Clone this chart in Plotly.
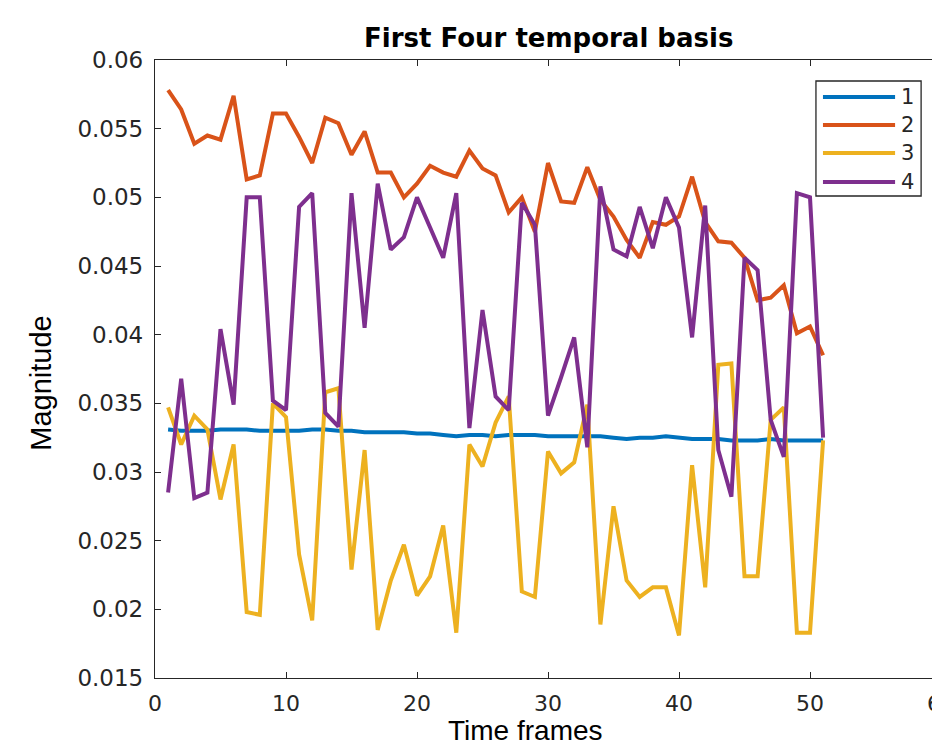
import plotly.graph_objects as go

frames = list(range(1, 52))

basis1 = [0.0331, 0.0330, 0.0330, 0.0330, 0.0331, 0.0331, 0.0331, 0.0330, 0.0330, 0.0330,
          0.0330, 0.0331, 0.0331, 0.0330, 0.0330, 0.0329, 0.0329, 0.0329, 0.0329, 0.0328,
          0.0328, 0.0327, 0.0326, 0.0327, 0.0327, 0.0326, 0.0327, 0.0327, 0.0327, 0.0326,
          0.0326, 0.0326, 0.0326, 0.0326, 0.0325, 0.0324, 0.0325, 0.0325, 0.0326, 0.0325,
          0.0324, 0.0324, 0.0324, 0.0323, 0.0323, 0.0323, 0.0324, 0.0323, 0.0323, 0.0323,
          0.0323]

basis2 = [0.0578, 0.0564, 0.0539, 0.0545, 0.0542, 0.0574, 0.0513, 0.0516, 0.0561, 0.0561,
          0.0544, 0.0525, 0.0558, 0.0554, 0.0531, 0.0548, 0.0518, 0.0518, 0.0500, 0.0510,
          0.0523, 0.0518, 0.0515, 0.0534, 0.0521, 0.0516, 0.0489, 0.0500, 0.0475, 0.0525,
          0.0497, 0.0496, 0.0522, 0.0498, 0.0486, 0.0469, 0.0456, 0.0482, 0.0480, 0.0486,
          0.0515, 0.0482, 0.0468, 0.0467, 0.0456, 0.0425, 0.0427, 0.0436, 0.0401, 0.0406,
          0.0385]

basis3 = [0.0347, 0.0320, 0.0341, 0.0331, 0.0280, 0.0320, 0.0198, 0.0196, 0.0350, 0.0340,
          0.0240, 0.0192, 0.0358, 0.0361, 0.0229, 0.0316, 0.0185, 0.0221, 0.0247, 0.0210,
          0.0224, 0.0261, 0.0183, 0.0320, 0.0304, 0.0336, 0.0355, 0.0213, 0.0209, 0.0315,
          0.0299, 0.0307, 0.0349, 0.0189, 0.0275, 0.0221, 0.0209, 0.0216, 0.0216, 0.0181,
          0.0305, 0.0216, 0.0378, 0.0379, 0.0224, 0.0224, 0.0338, 0.0347, 0.0183, 0.0183,
          0.0323]

basis4 = [0.0285, 0.0368, 0.0281, 0.0285, 0.0404, 0.0349, 0.0500, 0.0500, 0.0352, 0.0345,
          0.0493, 0.0503, 0.0343, 0.0333, 0.0503, 0.0405, 0.0510, 0.0462, 0.0471, 0.0500,
          0.0478, 0.0456, 0.0503, 0.0332, 0.0418, 0.0355, 0.0345, 0.0496, 0.0480, 0.0341,
          0.0369, 0.0398, 0.0318, 0.0508, 0.0462, 0.0457, 0.0493, 0.0463, 0.0500, 0.0478,
          0.0398, 0.0494, 0.0316, 0.0282, 0.0456, 0.0447, 0.0338, 0.0311, 0.0503, 0.0500,
          0.0325]

series_names = ["1", "2", "3", "4"]
series_colors = ["#0072BD", "#D95319", "#EDB120", "#7E2F8E"]
series_values = [basis1, basis2, basis3, basis4]

x_ticks = [0, 10, 20, 30, 40, 50, 60]
y_ticks = [0.015, 0.02, 0.025, 0.03, 0.035, 0.04, 0.045, 0.05, 0.055, 0.06]
y_tick_text = ["0.015", "0.02", "0.025", "0.03", "0.035", "0.04", "0.045", "0.05", "0.055", "0.06"]

title_text = "First Four temporal basis"
x_title = "Time frames"
y_title = "Magnitude"

# page body has an 8px margin; horizontal positions are given in page pixels
OFF = 8
HS = 1 / 0.981   # horizontal correction observed between layout and picture
PL, PR = round(152 * HS), round(937 * HS)
PT, PB = 60, 678
W = PR - OFF
H = 754 - 2 * OFF
L, R = PL - OFF, 0
T, B = PT - OFF, H - (PB - OFF)
pw, ph = PR - PL, PB - PT

def px(xp):
    return (xp * HS - PL) / pw

def py(yp):
    return (PB - yp) / ph

fig = go.Figure()
for name, color, vals in zip(series_names, series_colors, series_values):
    fig.add_trace(go.Scatter(x=frames, y=vals, mode="lines", name=name,
                             line=dict(color=color, width=4), showlegend=False))

axis_color = "#262626"

fig.update_xaxes(range=[0, 60], tickvals=x_ticks, ticks="inside", ticklen=6,
                 tickcolor=axis_color, showline=True, linecolor=axis_color, linewidth=1.3,
                 mirror="ticks", showgrid=False, zeroline=False,
                 tickfont=dict(family="DejaVu Sans", size=22, color=axis_color),
                 ticklabeloverflow="allow", ticklabelstandoff=5)
fig.update_yaxes(range=[0.015, 0.06], tickvals=y_ticks, ticktext=y_tick_text,
                 ticks="inside", ticklen=6, tickcolor=axis_color, showline=True,
                 linecolor=axis_color, linewidth=1.3, mirror="ticks", showgrid=False,
                 zeroline=False,
                 tickfont=dict(family="DejaVu Sans", size=23, color=axis_color),
                 ticklabelstandoff=6)

shapes = []
annotations = []

# legend box
shapes.append(dict(type="rect", xref="paper", yref="paper",
                   x0=px(812), x1=px(917), y0=py(196), y1=py(81),
                   line=dict(color=axis_color, width=1.3), fillcolor="white", layer="above"))
legend_rows = [97, 125, 153, 182]
for name, color, ry in zip(series_names, series_colors, legend_rows):
    shapes.append(dict(type="line", xref="paper", yref="paper",
                       x0=px(819), x1=px(891), y0=py(ry), y1=py(ry),
                       line=dict(color=color, width=4), layer="above"))
    annotations.append(dict(text=name, xref="paper", yref="paper", x=px(895), y=py(ry),
                            xanchor="left", yanchor="middle", showarrow=False,
                            font=dict(family="DejaVu Sans", size=21, color=axis_color)))

annotations.append(dict(text="<b>" + title_text + "</b>", xref="paper", yref="paper",
                        x=px(545), y=py(38), xanchor="center", yanchor="middle",
                        showarrow=False,
                        font=dict(family="DejaVu Sans", size=26, color="black")))
annotations.append(dict(text=x_title, xref="paper", yref="paper",
                        x=px(522), y=py(730), xanchor="center", yanchor="middle",
                        showarrow=False,
                        font=dict(family="Liberation Sans", size=28, color="black")))
annotations.append(dict(text=y_title, xref="paper", yref="paper",
                        x=px(38), y=py(383), xanchor="center", yanchor="middle",
                        showarrow=False, textangle=-90,
                        font=dict(family="Liberation Sans", size=29, color="black")))

fig.update_layout(width=W, height=H, margin=dict(l=L, r=R, t=T, b=B),
                  paper_bgcolor="white", plot_bgcolor="white",
                  shapes=shapes, annotations=annotations)

fig.write_html("out.html")
